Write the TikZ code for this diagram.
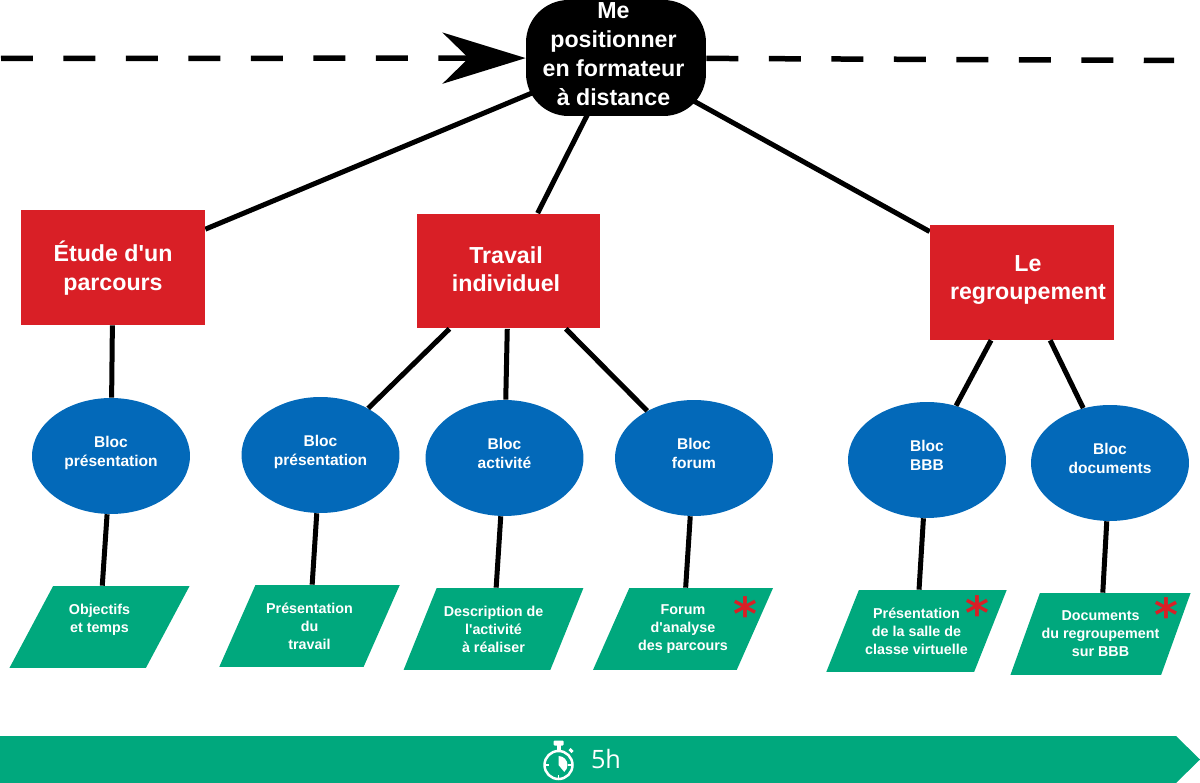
\documentclass[tikz,border=0pt]{standalone}
\usepackage{fontspec}
\setmainfont{Liberation Sans}[Ligatures=TeXOff]
\newfontfamily\chiffres{Open Sans}
\newfontfamily\etoiles{DejaVu Sans}
\usepackage{xcolor}
\usetikzlibrary{arrows.meta, shapes.geometric, positioning, calc, backgrounds}
\definecolor{Rouge}{RGB}{217, 31, 38}
\definecolor{Bleu} {RGB}{3,  105,185}
\definecolor{Vert} {RGB}{0,  168,125}
\newcommand{\monte}[1]{\\[#1]\mbox{}}
\newcommand{\gauche}{\hspace*{-0.1cm}}

\begin{document}
\begin{tikzpicture}[
      x=0.02cm,y=-0.02cm,
      titre/.style ={fill=black,text=white,rounded corners=0.85cm,inner sep=0pt,
                    minimum width=3.6cm,minimum height=2.32cm,align=center,
                    font=\fontsize{13.2}{16.44}\selectfont\bfseries},
      etape/.style ={fill=Rouge,text=white,inner sep=0pt,
                    minimum width=3.68cm,minimum height=2.3cm,align=center,
                    font=\fontsize{13.2}{16.44}\selectfont\bfseries},
      bloc/.style  ={ellipse,fill=Bleu,text=white,inner sep=0pt,
                    minimum width=3.16cm,minimum height=2.32cm,align=center,
                    font=\fontsize{8.85}{10.8}\selectfont\bfseries},
      contenu/.style={trapezium,trapezium left angle=58,trapezium right angle=122,
                    trapezium stretches=true,fill=Vert,text=white,inner sep=0pt,
                    minimum width=3.62cm,minimum height=1.64cm,align=center,
                    font=\fontsize{8.15}{10.2}\selectfont\bfseries},
      etoile/.style={text=Rouge,inner sep=0pt,font=\etoiles\fontsize{26}{26}\selectfont\bfseries},
      fl/.style    ={black,line width=0.1cm},
      tirets/.style={black,line width=0.11cm,dash pattern=on 0.64cm off 0.61cm}]
      \useasboundingbox (0,0) rectangle (1200,783);
      % frise du haut
      \coordinate (debut) at (1,58.5);
      \coordinate (fin)   at (1174,60.5);
      \node[titre] (pos) at (616,58){\gauche Me\\\gauche positionner\\\gauche en formateur\\\gauche à distance\monte{-0.42cm}};

      \node[etape] (etude)  at (113,267.5){Étude d'un\\parcours\monte{-0.52cm}};
      \node[etape] (trav)   at (508.5,271){\gauche Travail\\\gauche individuel\monte{-0.5cm}};
      \node[etape] (regr)   at (1022,282.5){\hspace*{0.24cm}Le\\\hspace*{0.24cm}regroupement\monte{-0.38cm}};

      \node[bloc] (b1) at (111,456)  {Bloc\\présentation\monte{-0.18cm}};
      \node[bloc] (b2) at (320.5,455){Bloc\\présentation\monte{-0.18cm}};
      \node[bloc] (b3) at (504.5,458){Bloc\\activité\monte{-0.18cm}};
      \node[bloc] (b4) at (694,458)  {Bloc\\forum\monte{-0.18cm}};
      \node[bloc] (b5) at (927,460)  {Bloc\\BBB\monte{-0.18cm}};
      \node[bloc] (b6) at (1110,463) {Bloc\\documents\monte{-0.18cm}};

      \node[contenu] (c1) at (99.5,627) {Objectifs\\et temps\\\mbox{}};
      \node[contenu] (c2) at (309.5,626){Présentation\\du\\travail};
      \node[contenu] (c3) at (493.5,629){Description de\\l'activité\\à réaliser};
      \node[contenu] (c4) at (683,629)  {Forum\\d'analyse\\des parcours};
      \node[contenu] (c5) at (916.5,631){Présentation\\de la salle de\\classe virtuelle};
      \node[contenu] (c6) at (1100.5,634){Documents\\du regroupement\\sur BBB};

      \node[etoile] (e4) at (745,613.5){*};
      \node[etoile] (e5) at (977,612.5){*};
      \node[etoile] (e6) at (1166,614.5){*};

      \begin{scope}[on background layer]
        \foreach \b in {etude,trav,regr}
          \draw[fl] (pos.center)--(\b);
      \end{scope}
      \foreach \a/\b in {etude/b1,trav/b2,trav/b3,trav/b4,
                         regr/b5,regr/b6,b1/c1,b2/c2,b3/c3,b4/c4,b5/c5,b6/c6}
        \draw[fl] (\a)--(\b);
      \draw[tirets,-{Stealth[length=1.66cm,width=1.02cm,inset=0.52cm]}] (debut)--(pos);
      \draw[tirets] (pos)--(fin);

      % bandeau du bas
      \fill[Vert] (0,736)--(1176,736)--(1200,759.5)--(1176,783)--(0,783)--cycle;
      \node[text=white,inner sep=0pt,font=\chiffres\fontsize{14.4}{16}\selectfont] (duree) at (606,759){5h};
      \draw[white,line width=0.05cm] (558.5,765) circle[radius=14];
      \fill[white] (556.5,744) rectangle (560.5,751);
      \fill[white,rounded corners=0.02cm] (553.5,740.5) rectangle (563.5,745.5);
      \draw[white,line width=0.06cm] (569.5,749)--(572.5,752);
      \fill[white] (558.5,765)--(558.5,756) arc[start angle=-90,end angle=50,radius=9]--cycle;
      \draw[white,line width=0.03cm] (545,765)--(549,765) (572,765)--(568,765) (558.5,778.5)--(558.5,774.5);
    \end{tikzpicture}
\end{document}
